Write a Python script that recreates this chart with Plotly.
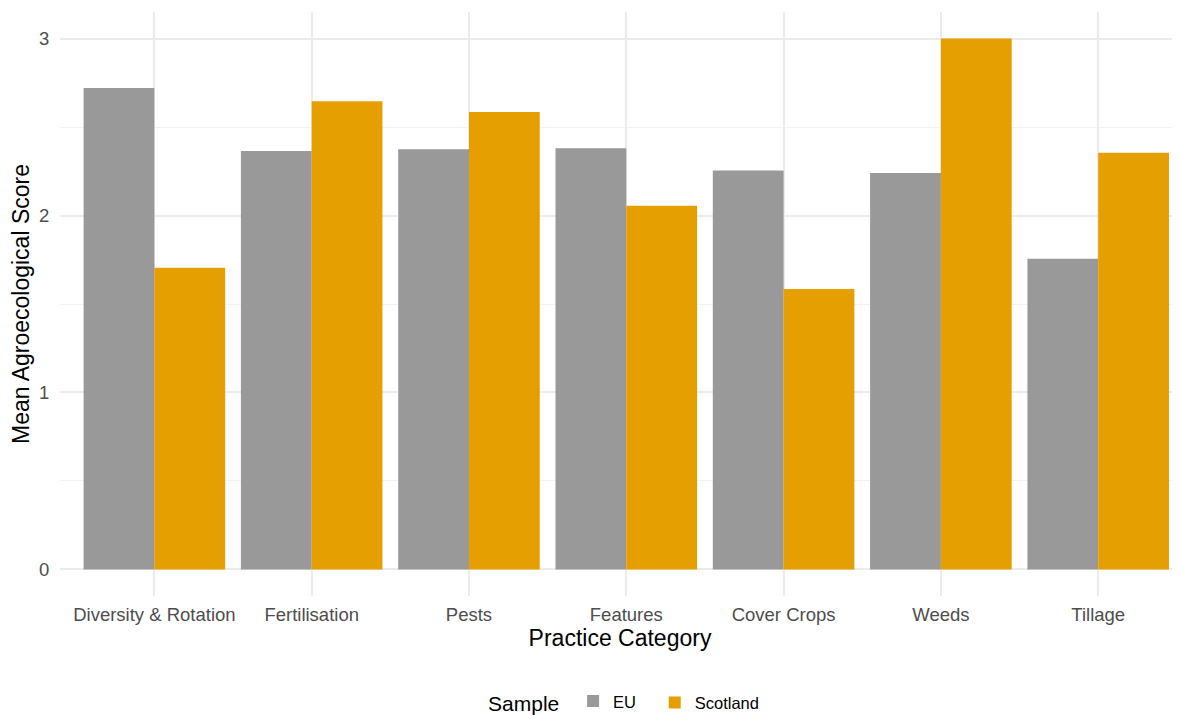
import plotly.graph_objects as go

categories = ["Diversity & Rotation", "Fertilisation", "Pests", "Features",
              "Cover Crops", "Weeds", "Tillage"]
eu_values = [2.72, 2.365, 2.375, 2.38, 2.255, 2.24, 1.755]
scotland_values = [1.705, 2.645, 2.585, 2.055, 1.585, 3.0, 2.355]
y_ticks = [0, 1, 2, 3]
series_names = ["EU", "Scotland"]
series_colors = ["#999999", "#E69F00"]
series_legends = ["legend", "legend2"]

FONT = "Liberation Sans, Arial, sans-serif"

fig = go.Figure()
for name, vals, col, lg in zip(series_names, [eu_values, scotland_values], series_colors, series_legends):
    fig.add_trace(go.Bar(
        x=categories, y=vals, name=name, legend=lg, showlegend=True,
        marker=dict(color=col, line=dict(width=0)),
    ))

legend_common = dict(
    orientation="h", xanchor="left", y=-0.183, yanchor="middle",
    font=dict(size=16.5, color="black", family=FONT),
    itemwidth=30, tracegroupgap=0,
)

fig.update_layout(
    width=1180, height=715, showlegend=True,
    barmode="group", bargap=0.1, bargroupgap=0,
    plot_bgcolor="white", paper_bgcolor="white",
    margin=dict(l=52, r=8, t=4, b=127, autoexpand=False),
    font=dict(family=FONT, color="#4D4D4D"),
    legend=dict(
        x=0.3804,
        title=dict(text="Sample ", font=dict(size=21, color="black", family=FONT), side="left"),
        **legend_common,
    ),
    legend2=dict(x=0.531, **legend_common),
    xaxis=dict(
        range=[-0.6, 6.52], automargin=False,
        showgrid=True, gridcolor="#EBEBEB", gridwidth=2,
        zeroline=False, showline=False,
        ticks="outside", ticklen=2, tickcolor="rgba(0,0,0,0)",
        tickfont=dict(size=18.5, color="#4D4D4D", family=FONT),
        title=dict(text="Practice Category", font=dict(size=23, color="black", family=FONT), standoff=2),
    ),
    yaxis=dict(
        range=[-0.15, 3.15], automargin=False,
        tickvals=y_ticks,
        showgrid=True, gridcolor="#EBEBEB", gridwidth=2,
        zeroline=False, showline=False,
        ticks="outside", ticklen=6, tickcolor="rgba(0,0,0,0)",
        tickfont=dict(size=18.5, color="#4D4D4D", family=FONT),
        minor=dict(dtick=0.5, tick0=0, showgrid=True, gridcolor="#F2F2F2", gridwidth=1),
        title=dict(text="Mean Agroecological Score", font=dict(size=23, color="black", family=FONT), standoff=3),
    ),
)

fig.write_html("out.html")
